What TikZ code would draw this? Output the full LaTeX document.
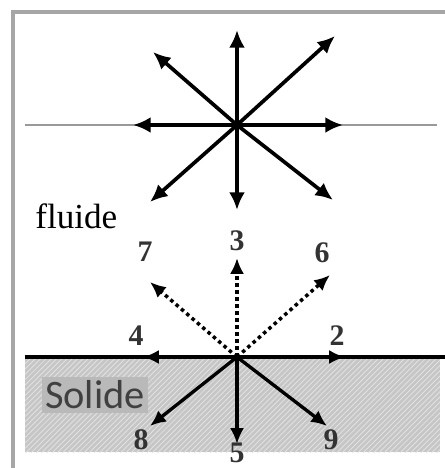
\documentclass[tikz,border=0pt]{standalone}
\usepackage{fontspec}
\setmainfont{Liberation Serif}
\newfontfamily\solfont{Carlito}
\usetikzlibrary{arrows.meta,patterns}
\begin{document}
\begin{tikzpicture}[
    x=0.02cm, y=-0.02cm,
    vec/.style={-{Latex[length=10pt,width=9pt]}, line width=2.1pt, black},
    wallvec/.style={-{Latex[length=9pt,width=8pt]}, line width=1.9pt, black},
    dotvec/.style={-{Latex[length=9pt,width=8pt]}, line width=2pt, black, dotted},
    num/.style={font=\fontsize{17}{18}\selectfont\bfseries, text=black!80, inner sep=1pt},
]
\useasboundingbox (0,0) rectangle (445,468);

% Frame
\draw[gray!70, line width=2pt] (13,468) -- (13,12) -- (445,12);

% Upper star (fluid node)
\draw[gray!80, line width=1.6pt] (25,125) -- (437,125);
\coordinate (c1) at (237,125);
\coordinate (e1) at (343,125);
\coordinate (n1) at (237,30);
\coordinate (w1) at (133,125);
\coordinate (s1) at (237,210);
\coordinate (ne1) at (335,36);
\coordinate (nw1) at (153,52);
\coordinate (sw1) at (150,202);
\coordinate (se1) at (333,200);
\foreach \d in {e1,n1,w1,s1,ne1,nw1,sw1,se1}
    \draw[vec] (c1) -- (\d);

\node[font=\fontsize{20}{22}\selectfont, anchor=base west, inner sep=0pt] (fluide) at (35,228) {fluide};

% Solid region
\fill[gray!45] (25,359) rectangle (440,452);
\fill[pattern=north east lines, pattern color=gray!20] (25,359) rectangle (440,452);
\node[fill=gray!55, font=\solfont\fontsize{23}{24}\selectfont, text=black!75, inner sep=2pt] (solide) at (95,395) {Solide};
\draw[black, line width=2pt] (25,357) -- (445,357);

% Lower star (wall node)
\coordinate (c2) at (237,357);
\coordinate (e2) at (345,357);
\coordinate (n2) at (237,258);
\coordinate (w2) at (143,357);
\coordinate (s2) at (237,444);
\coordinate (ne2) at (330,275);
\coordinate (nw2) at (150,282);
\coordinate (sw2) at (150,426);
\coordinate (se2) at (327,426);
\draw[wallvec] (c2) -- (e2);
\draw[wallvec] (c2) -- (w2);
\draw[dotvec] (c2) -- (n2);
\draw[dotvec] (c2) -- (ne2);
\draw[dotvec] (c2) -- (nw2);
\draw[wallvec] (c2) -- (s2);
\draw[wallvec] (c2) -- (sw2);
\draw[wallvec] (c2) -- (se2);

% Labels
\node[num] (l3) at (237,241) {3};
\node[num] (l7) at (145,252) {7};
\node[num] (l6) at (322,253) {6};
\node[num] (l4) at (136,336) {4};
\node[num] (l2) at (337,336) {2};
\node[num] (l8) at (141,440) {8};
\node[num, anchor=south, inner sep=0pt] (l5) at (237,463) {5};
\node[num] (l9) at (331,440) {9};
\end{tikzpicture}
\end{document}
